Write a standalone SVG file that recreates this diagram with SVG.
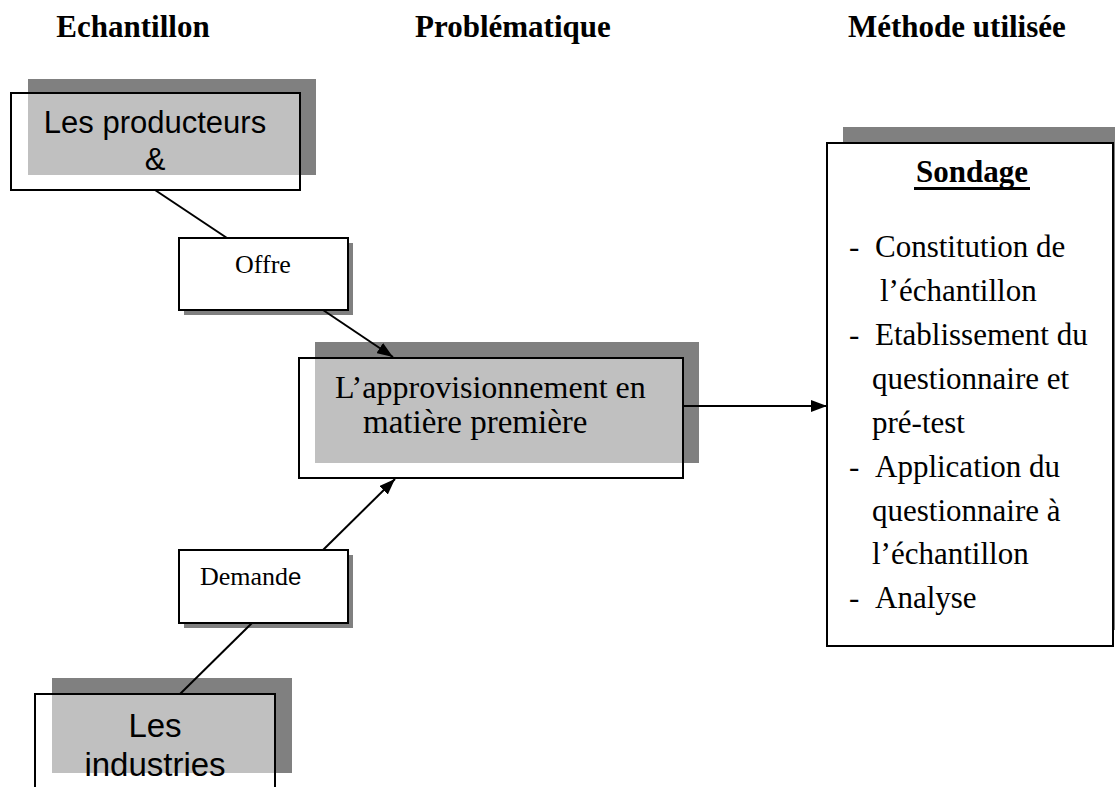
<svg xmlns="http://www.w3.org/2000/svg" width="1115" height="787" viewBox="0 0 1115 787">
<style>
.title{font-family:"Liberation Serif","Times New Roman",serif;font-weight:bold;font-size:31px;fill:#000}
.serif{font-family:"Liberation Serif","Times New Roman",serif;fill:#000}
.sans{font-family:"Liberation Sans",Arial,sans-serif;fill:#000}
.shadow{fill:#808080}
.box{fill:#ffffff;fill-opacity:0.5;stroke:#000;stroke-width:2}
.solid{fill:#ffffff;stroke:#000;stroke-width:2}
.conn{stroke:#000;stroke-width:2;fill:none}
</style>
<defs>
<marker id="arrow" viewBox="0 0 16 12" refX="16" refY="6" markerWidth="16" markerHeight="12" markerUnits="userSpaceOnUse" orient="auto">
<path d="M0,0 L16,6 L0,12 Z" fill="#000"/>
</marker>
</defs>
<rect width="1115" height="787" fill="#fff"/>
<g id="titles">
<text class="title" x="133" y="37" text-anchor="middle">Echantillon</text>
<text class="title" x="415" y="37">Problématique</text>
<text class="title" x="848" y="37">Méthode utilisée</text>
</g>
<g id="producteurs">
<rect class="shadow" x="28" y="79" width="288" height="96"/>
<rect class="box" x="11" y="93" width="289" height="97"/>
<text class="sans" font-size="31" x="155" y="133" text-anchor="middle">Les producteurs</text>
<text class="sans" font-size="31" x="155" y="170" text-anchor="middle">&amp;</text>
</g>
<g id="offre">
<rect class="shadow" x="184" y="243" width="169" height="72"/>
<rect class="solid" x="179" y="238" width="169" height="72"/>
<text class="serif" font-size="26" x="263" y="273" text-anchor="middle">Offre</text>
</g>
<g id="approvisionnement">
<rect class="shadow" x="315" y="342" width="384" height="121"/>
<rect class="box" x="299" y="358" width="384" height="120"/>
<text class="serif" font-size="32" x="335" y="398">L’approvisionnement en</text>
<text class="serif" font-size="33" x="363" y="433">matière première</text>
</g>
<g id="demande">
<rect class="shadow" x="184" y="555" width="169" height="73"/>
<rect class="solid" x="179" y="550" width="169" height="73"/>
<text class="serif" font-size="26" x="200" y="585">Demand<tspan class="sans" font-size="24">e</tspan></text>
</g>
<g id="industries">
<rect class="shadow" x="52" y="678" width="240" height="95"/>
<rect class="box" x="35" y="694" width="240" height="110"/>
<text class="sans" font-size="33" x="155" y="737" text-anchor="middle">Les</text>
<text class="sans" font-size="33" x="155" y="776" text-anchor="middle">industries</text>
</g>
<g id="sondage">
<rect class="shadow" x="843" y="127" width="272" height="503"/>
<rect class="solid" x="827" y="143" width="286" height="503"/>
<text class="serif" font-size="31" font-weight="bold" x="972" y="182" text-anchor="middle">Sondage</text>
<rect x="914" y="187" width="116" height="3" fill="#000"/>
<g class="serif" font-size="31">
<text x="849" y="257">-</text><text x="875" y="257">Constitution de</text>
<text x="880" y="301">l’échantillon</text>
<text x="849" y="345">-</text><text x="875" y="345">Etablissement du</text>
<text x="872" y="389">questionnaire et</text>
<text x="872" y="433">pré-test</text>
<text x="849" y="477">-</text><text x="875" y="477">Application du</text>
<text x="872" y="521">questionnaire à</text>
<text x="872" y="564">l’échantillon</text>
<text x="849" y="608">-</text><text x="875" y="608">Analyse</text>
</g>
</g>
<g id="connectors">
<line class="conn" x1="155" y1="190" x2="227" y2="238"/>
<line class="conn" x1="323" y1="310" x2="393" y2="357" marker-end="url(#arrow)"/>
<line class="conn" x1="180" y1="694" x2="252" y2="623"/>
<line class="conn" x1="323" y1="550" x2="395" y2="479" marker-end="url(#arrow)"/>
<line class="conn" x1="683" y1="406" x2="827" y2="406" marker-end="url(#arrow)"/>
</g>
</svg>
